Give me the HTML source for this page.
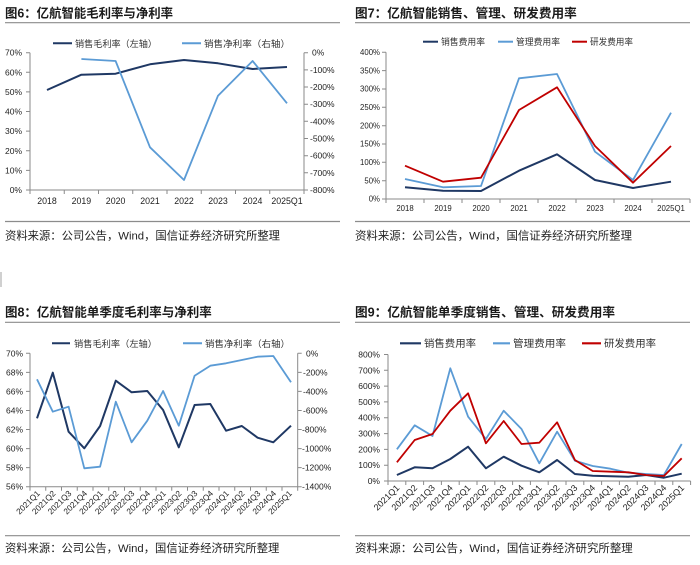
<!DOCTYPE html>
<html><head><meta charset="utf-8">
<style>
html,body{margin:0;padding:0;background:#fff;}
svg{display:block;}
text{font-family:"Liberation Sans","Noto Sans CJK SC",sans-serif;fill:#222;}
.t{font-size:12.5px;font-weight:bold;fill:#1a1a1a;}
.src{font-size:11.2px;fill:#222;}
.lg{font-size:9.2px;fill:#333;}
.tk{font-size:8.5px;fill:#333;}
.ax{stroke:#8a8a8a;stroke-width:1;fill:none;}
.sep{stroke:#8c8c8c;stroke-width:1.2;}
.dk{stroke:#1F3864;stroke-width:2;fill:none;stroke-linejoin:round;}
.lb{stroke:#5B9BD5;stroke-width:1.8;fill:none;stroke-linejoin:round;}
.rd{stroke:#C00000;stroke-width:1.8;fill:none;stroke-linejoin:round;}
</style></head><body>
<svg width="700" height="565" viewBox="0 0 700 565" xmlns="http://www.w3.org/2000/svg">
<rect x="0" y="0" width="700" height="565" fill="#fff"/>
<rect x="0" y="272" width="2" height="15" fill="#d0d0d0"/>

<!-- ============ Panel 1 ============ -->
<text class="t" x="5" y="17.4" textLength="168" lengthAdjust="spacingAndGlyphs">图6：亿航智能毛利率与净利率</text>
<line class="sep" x1="5" y1="22.7" x2="340" y2="22.7"/>
<line x1="53" y1="43.3" x2="72" y2="43.3" stroke="#1F3864" stroke-width="2"/>
<text class="lg" x="75" y="46.8" textLength="82" lengthAdjust="spacingAndGlyphs">销售毛利率（左轴）</text>
<line x1="182" y1="43.3" x2="201" y2="43.3" stroke="#5B9BD5" stroke-width="2"/>
<text class="lg" x="204" y="46.8" textLength="86" lengthAdjust="spacingAndGlyphs">销售净利率（右轴）</text>
<!-- axes -->
<path class="ax" d="M30,52.7V190H304V52.7"/>
<path class="ax" d="M26,52.7H30M26,72.3H30M26,91.9H30M26,111.5H30M26,131.1H30M26,150.8H30M26,170.4H30M26,190H30"/>
<path class="ax" d="M304,52.7H308M304,69.9H308M304,87H308M304,104.2H308M304,121.3H308M304,138.5H308M304,155.7H308M304,172.8H308M304,190H308"/>
<path class="ax" d="M30,190V194M64.25,190V194M98.5,190V194M132.75,190V194M167,190V194M201.25,190V194M235.5,190V194M269.75,190V194M304,190V194"/>
<g class="tk" text-anchor="end">
<text x="22" y="55.7">70%</text><text x="22" y="75.3">60%</text><text x="22" y="94.9">50%</text><text x="22" y="114.5">40%</text>
<text x="22" y="134.1">30%</text><text x="22" y="153.8">20%</text><text x="22" y="173.4">10%</text><text x="22" y="193">0%</text>
</g>
<g class="tk">
<text x="312" y="55.7">0%</text><text x="310" y="72.9">-100%</text><text x="310" y="90">-200%</text><text x="310" y="107.2">-300%</text>
<text x="310" y="124.3">-400%</text><text x="310" y="141.5">-500%</text><text x="310" y="158.7">-600%</text><text x="310" y="175.8">-700%</text><text x="310" y="193">-800%</text>
</g>
<g class="tk" text-anchor="middle" style="font-size:8.8px">
<text x="47" y="204.2">2018</text><text x="81.4" y="204.2">2019</text><text x="115.6" y="204.2">2020</text><text x="150" y="204.2">2021</text>
<text x="184" y="204.2">2022</text><text x="218" y="204.2">2023</text><text x="252.6" y="204.2">2024</text><text x="287" y="204.2">2025Q1</text>
</g>
<polyline class="dk" points="47,90 81.4,74.7 115.6,73.7 150,64.3 184,60 218,63.3 252.6,69 287,67"/>
<polyline class="lb" points="81.4,59 115.6,61 150,147.3 184,180 218,95.7 252.6,61 287,103.3"/>
<line class="sep" x1="5" y1="221.5" x2="340" y2="221.5"/>
<text class="src" x="5" y="239.3" textLength="275" lengthAdjust="spacingAndGlyphs">资料来源：公司公告，Wind，国信证券经济研究所整理</text>

<!-- ============ Panel 2 ============ -->
<text class="t" x="355" y="17.4" textLength="221.7" lengthAdjust="spacingAndGlyphs">图7：亿航智能销售、管理、研发费用率</text>
<line class="sep" x1="355" y1="22.7" x2="690" y2="22.7"/>
<line x1="423" y1="41.7" x2="438" y2="41.7" stroke="#1F3864" stroke-width="2"/>
<text class="lg" x="441" y="45" textLength="44" lengthAdjust="spacingAndGlyphs">销售费用率</text>
<line x1="498" y1="41.7" x2="513" y2="41.7" stroke="#5B9BD5" stroke-width="2"/>
<text class="lg" x="516" y="45" textLength="44" lengthAdjust="spacingAndGlyphs">管理费用率</text>
<line x1="572" y1="41.7" x2="587" y2="41.7" stroke="#C00000" stroke-width="2"/>
<text class="lg" x="590" y="45" textLength="43" lengthAdjust="spacingAndGlyphs">研发费用率</text>
<path class="ax" d="M386,52.3V199H690"/>
<path class="ax" d="M382,52.3H386M382,70.6H386M382,89H386M382,107.3H386M382,125.7H386M382,144H386M382,162.3H386M382,180.7H386M382,199H386"/>
<path class="ax" d="M386,199V203M424,199V203M462,199V203M500,199V203M538,199V203M576,199V203M614,199V203M652,199V203M690,199V203"/>
<g class="tk" text-anchor="end" style="font-size:7.8px">
<text x="380" y="55">400%</text><text x="380" y="73.3">350%</text><text x="380" y="91.7">300%</text><text x="380" y="110">250%</text>
<text x="380" y="128.4">200%</text><text x="380" y="146.7">150%</text><text x="380" y="165">100%</text><text x="380" y="183.4">50%</text><text x="380" y="201.7">0%</text>
</g>
<g class="tk" text-anchor="middle" style="font-size:7.8px">
<text x="405" y="211">2018</text><text x="443" y="211">2019</text><text x="481" y="211">2020</text><text x="519" y="211">2021</text>
<text x="557" y="211">2022</text><text x="595" y="211">2023</text><text x="633" y="211">2024</text><text x="671" y="211">2025Q1</text>
</g>
<polyline class="dk" points="405,187.3 443,190.7 481,191 519,170.7 557,154.3 595,180 633,188 671,181.7"/>
<polyline class="lb" points="405,179 443,187.3 481,186 519,78.3 557,74 595,151.7 633,180 671,112.7"/>
<polyline class="rd" points="405,165.7 443,181.7 481,177.7 519,110 557,87.3 595,146 633,182.7 671,146"/>
<line class="sep" x1="355" y1="221.5" x2="690" y2="221.5"/>
<text class="src" x="355" y="239.3" textLength="277" lengthAdjust="spacingAndGlyphs">资料来源：公司公告，Wind，国信证券经济研究所整理</text>

<!-- ============ Panel 3 ============ -->
<text class="t" x="5" y="316.4" textLength="206.7" lengthAdjust="spacingAndGlyphs">图8：亿航智能单季度毛利率与净利率</text>
<line class="sep" x1="5" y1="322.3" x2="340" y2="322.3"/>
<line x1="52" y1="343.3" x2="70" y2="343.3" stroke="#1F3864" stroke-width="2"/>
<text class="lg" x="74" y="346.8" textLength="83" lengthAdjust="spacingAndGlyphs">销售毛利率（左轴）</text>
<line x1="183" y1="343.3" x2="202" y2="343.3" stroke="#5B9BD5" stroke-width="2"/>
<text class="lg" x="205" y="346.8" textLength="85" lengthAdjust="spacingAndGlyphs">销售净利率（右轴）</text>
<path class="ax" d="M30,353.3V486.7H297.7V353.3"/>
<path class="ax" d="M26,353.3H30M26,372.4H30M26,391.4H30M26,410.5H30M26,429.5H30M26,448.6H30M26,467.6H30M26,486.7H30"/>
<path class="ax" d="M297.7,353.3H301.7M297.7,372.4H301.7M297.7,391.4H301.7M297.7,410.5H301.7M297.7,429.5H301.7M297.7,448.6H301.7M297.7,467.6H301.7M297.7,486.7H301.7"/>
<path class="ax" d="M30,486.7v4M45.75,486.7v4M61.5,486.7v4M77.25,486.7v4M93,486.7v4M108.75,486.7v4M124.5,486.7v4M140.25,486.7v4M156,486.7v4M171.75,486.7v4M187.5,486.7v4M203.25,486.7v4M219,486.7v4M234.75,486.7v4M250.5,486.7v4M266.25,486.7v4M282,486.7v4M297.7,486.7v4"/>
<g class="tk" text-anchor="end">
<text x="23" y="356.3">70%</text><text x="23" y="375.4">68%</text><text x="23" y="394.4">66%</text><text x="23" y="413.5">64%</text>
<text x="23" y="432.5">62%</text><text x="23" y="451.6">60%</text><text x="23" y="470.6">58%</text><text x="23" y="489.7">56%</text>
</g>
<g class="tk">
<text x="306" y="356.3">0%</text><text x="303" y="375.4">-200%</text><text x="303" y="394.4">-400%</text><text x="303" y="413.5">-600%</text>
<text x="302" y="432.5">-800%</text><text x="302" y="451.6">-1000%</text><text x="302" y="470.6">-1200%</text><text x="302" y="489.7">-1400%</text>
</g>
<g class="tk" text-anchor="end" style="font-size:8.3px">
<text transform="translate(40.5,494) rotate(-45)">2021Q1</text>
<text transform="translate(56.2,494) rotate(-45)">2021Q2</text>
<text transform="translate(72,494) rotate(-45)">2021Q3</text>
<text transform="translate(87.7,494) rotate(-45)">2021Q4</text>
<text transform="translate(103.5,494) rotate(-45)">2022Q1</text>
<text transform="translate(119.2,494) rotate(-45)">2022Q2</text>
<text transform="translate(135,494) rotate(-45)">2022Q3</text>
<text transform="translate(150.7,494) rotate(-45)">2022Q4</text>
<text transform="translate(166.5,494) rotate(-45)">2023Q1</text>
<text transform="translate(182.2,494) rotate(-45)">2023Q2</text>
<text transform="translate(198,494) rotate(-45)">2023Q3</text>
<text transform="translate(213.7,494) rotate(-45)">2023Q4</text>
<text transform="translate(229.5,494) rotate(-45)">2024Q1</text>
<text transform="translate(245.2,494) rotate(-45)">2024Q2</text>
<text transform="translate(261,494) rotate(-45)">2024Q3</text>
<text transform="translate(276.7,494) rotate(-45)">2024Q4</text>
<text transform="translate(292.5,494) rotate(-45)">2025Q1</text>
</g>
<polyline class="dk" points="37,418.3 52.8,372.7 68.6,431.7 84.3,448.3 100.1,426 115.8,380.7 131.6,392.3 147.3,391 163.1,410 178.8,447.3 194.6,405 210.3,404 226.1,430.7 241.8,426 257.6,437.7 273.3,442.3 291,425.7"/>
<polyline class="lb" points="37,379.3 52.8,411.7 68.6,406.7 84.3,468.3 100.1,466.7 115.8,401.7 131.6,442.3 147.3,420.7 163.1,391 178.8,425.7 194.6,375.7 210.3,365.7 226.1,363.3 241.8,360 257.6,356.7 273.3,356 291,382.3"/>
<line class="sep" x1="5" y1="535.7" x2="340" y2="535.7"/>
<text class="src" x="5" y="552" textLength="274.3" lengthAdjust="spacingAndGlyphs">资料来源：公司公告，Wind，国信证券经济研究所整理</text>

<!-- ============ Panel 4 ============ -->
<text class="t" x="355" y="316.4" textLength="260" lengthAdjust="spacingAndGlyphs">图9：亿航智能单季度销售、管理、研发费用率</text>
<line class="sep" x1="355" y1="322.3" x2="690" y2="322.3"/>
<line x1="400" y1="343.3" x2="421" y2="343.3" stroke="#1F3864" stroke-width="2.2"/>
<text class="lg" x="424" y="347.2" style="font-size:10.2px" textLength="52" lengthAdjust="spacingAndGlyphs">销售费用率</text>
<line x1="493" y1="343.3" x2="510" y2="343.3" stroke="#5B9BD5" stroke-width="2.2"/>
<text class="lg" x="513" y="347.2" style="font-size:10.2px" textLength="53" lengthAdjust="spacingAndGlyphs">管理费用率</text>
<line x1="582" y1="343.3" x2="601" y2="343.3" stroke="#C00000" stroke-width="2.2"/>
<text class="lg" x="604" y="347.2" style="font-size:10.2px" textLength="52" lengthAdjust="spacingAndGlyphs">研发费用率</text>
<path class="ax" d="M388,354.5V481H690.6"/>
<path class="ax" d="M384,354.5H388M384,370.3H388M384,386.1H388M384,401.9H388M384,417.7H388M384,433.6H388M384,449.4H388M384,465.2H388M384,481H388"/>
<path class="ax" d="M388,481v4M405.8,481v4M423.6,481v4M441.4,481v4M459.2,481v4M477,481v4M494.8,481v4M512.6,481v4M530.4,481v4M548.2,481v4M566,481v4M583.8,481v4M601.6,481v4M619.4,481v4M637.2,481v4M655,481v4M672.8,481v4M690.6,481v4"/>
<g class="tk" text-anchor="end">
<text x="380" y="357.5">800%</text><text x="380" y="373.3">700%</text><text x="380" y="389.1">600%</text><text x="380" y="404.9">500%</text>
<text x="380" y="420.7">400%</text><text x="380" y="436.6">300%</text><text x="380" y="452.4">200%</text><text x="380" y="468.2">100%</text><text x="380" y="484">0%</text>
</g>
<g class="tk" text-anchor="end" style="font-size:9px">
<text transform="translate(400,488.5) rotate(-45)">2021Q1</text>
<text transform="translate(417.8,488.5) rotate(-45)">2021Q2</text>
<text transform="translate(435.6,488.5) rotate(-45)">2021Q3</text>
<text transform="translate(453.4,488.5) rotate(-45)">2021Q4</text>
<text transform="translate(471.2,488.5) rotate(-45)">2022Q1</text>
<text transform="translate(489,488.5) rotate(-45)">2022Q2</text>
<text transform="translate(506.8,488.5) rotate(-45)">2022Q3</text>
<text transform="translate(524.6,488.5) rotate(-45)">2022Q4</text>
<text transform="translate(542.4,488.5) rotate(-45)">2023Q1</text>
<text transform="translate(560.2,488.5) rotate(-45)">2023Q2</text>
<text transform="translate(578,488.5) rotate(-45)">2023Q3</text>
<text transform="translate(595.8,488.5) rotate(-45)">2023Q4</text>
<text transform="translate(613.6,488.5) rotate(-45)">2024Q1</text>
<text transform="translate(631.4,488.5) rotate(-45)">2024Q2</text>
<text transform="translate(649.2,488.5) rotate(-45)">2024Q3</text>
<text transform="translate(667,488.5) rotate(-45)">2024Q4</text>
<text transform="translate(684.8,488.5) rotate(-45)">2025Q1</text>
</g>
<polyline class="dk" points="396.9,475 414.7,467.3 432.5,468.3 450.3,459 468.1,446.7 485.9,468.3 503.7,456.7 521.5,465.7 539.3,472.3 557.1,460 574.9,474 592.7,475.7 610.5,476.3 628.3,476.7 646.1,475 663.9,477.7 681.7,473.7"/>
<polyline class="lb" points="396.9,449.3 414.7,425.3 432.5,436 450.3,368.3 468.1,416.7 485.9,439 503.7,410.7 521.5,429 539.3,463.3 557.1,431.7 574.9,460.7 592.7,466 610.5,468.7 628.3,472.7 646.1,474 663.9,475 681.7,444"/>
<polyline class="rd" points="396.9,462.3 414.7,440 432.5,434 450.3,410.7 468.1,393.3 485.9,443.3 503.7,421 521.5,444 539.3,442.7 557.1,422.3 574.9,460 592.7,471 610.5,471.7 628.3,472.3 646.1,475 663.9,476 681.7,458.3"/>
<line class="sep" x1="355" y1="535.7" x2="690" y2="535.7"/>
<text class="src" x="355" y="552" textLength="277.7" lengthAdjust="spacingAndGlyphs">资料来源：公司公告，Wind，国信证券经济研究所整理</text>
</svg>
</body></html>
